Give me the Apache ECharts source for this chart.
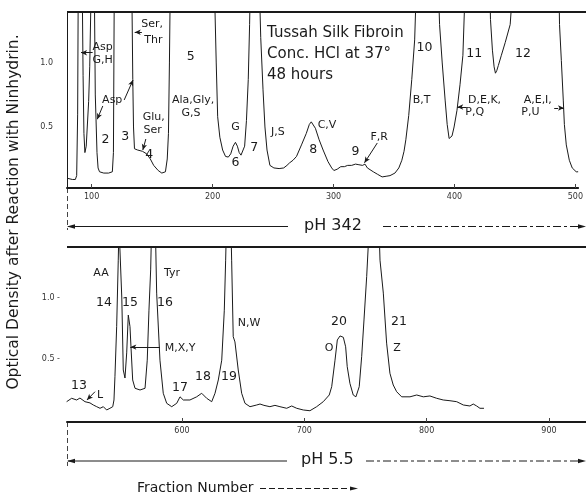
<!DOCTYPE html>
<html>
<head>
<meta charset="utf-8">
<script src="https://cdn.jsdelivr.net/npm/echarts@6/dist/echarts.min.js"></script>
<style>
html,body{margin:0;padding:0;background:#fff;}
#chart{width:586px;height:497px;}
</style>
</head>
<body>
<div id="chart"></div>
<script>
// ---------- DATA ----------
// Upper run (pH 3.42): fraction number / optical density (off-scale peaks exceed the axis top)
const topFraction = [79.6,84,86.5,87.6,88.4,88.9,92.2,92.9,93.6,94.4,95.5,97.5,98.4,99.6,102.2,103,103.6,104.4,105.3,106.5,110,114,117.1,118,118.7,133.2,134,134.6,135.4,138,142,145.5,148.5,151.3,155,158,161,162.5,163.5,164.3,165,201.5,203,204.2,206,208.3,210.7,213,215,217,218.9,220.5,222,223.5,225,226.5,228,229.5,230.6,231.2,238.7,239.8,241.7,243.3,245,247.4,250.7,255,258.8,261.5,263.7,266.5,269.4,273.5,277.5,280,281.6,283,285,288.1,291.4,295.4,298.5,300.3,303,306,309,311.7,315,318.2,321,324,326,328,332.9,336.5,340.2,343.5,346.7,350.8,354,356.5,358.3,359.8,362.2,364.7,367.1,368.5,386.7,387.7,389.9,392.3,394,395.6,396.8,398,399.7,402.1,404.6,407,408.9,429.2,429.8,431.4,432.8,433.9,435,436.3,438.8,442,446.1,448.3,486.4,486.9,488.4,490,490.9,492.5,495,497.4,500.7,502.3];
const topDensity = [0.10,0.09,0.09,0.12,0.6,1.6,1.6,0.9,0.45,0.30,0.35,0.7,0.97,1.6,1.6,0.75,0.56,0.3,0.18,0.15,0.14,0.14,0.15,0.3,1.6,1.6,0.87,0.5,0.33,0.32,0.31,0.29,0.25,0.2,0.16,0.14,0.15,0.25,0.45,1.0,1.6,1.6,1.0,0.58,0.42,0.32,0.27,0.265,0.29,0.35,0.38,0.35,0.3,0.28,0.29,0.35,0.55,0.87,1.3,1.6,1.6,1.2,0.79,0.5,0.32,0.2,0.18,0.175,0.18,0.2,0.22,0.24,0.27,0.36,0.45,0.52,0.54,0.53,0.49,0.40,0.32,0.23,0.18,0.16,0.17,0.19,0.19,0.2,0.2,0.21,0.205,0.2,0.21,0.18,0.15,0.13,0.11,0.115,0.12,0.14,0.18,0.24,0.31,0.4,0.59,0.87,1.18,1.6,1.6,1.3,1.0,0.71,0.52,0.41,0.40,0.43,0.5,0.63,0.83,1.06,1.6,1.6,1.34,1.1,0.97,0.92,0.94,0.98,1.06,1.16,1.3,1.6,1.6,1.3,1.02,0.71,0.52,0.36,0.24,0.18,0.15,0.15];

// Lower run (pH 5.5)
const bottomFraction = [505.7,509.8,513.9,516.6,520.7,522.1,524.8,527.5,530.3,533,535.7,538.4,541.1,543.4,544.4,545.2,546.6,547.9,548.5,550.1,550.8,552,553.4,554.8,556.1,557.5,558.3,559.7,561.6,565.7,569.8,571.6,573,574.4,575.2,578.2,579.3,582,584.7,587.5,591.6,595.7,598.4,601.1,606.5,612,616.1,620.2,624.3,627,629.7,632.5,634.6,635.7,636.4,640,640.6,641.9,643.3,646,648.8,651.5,655.6,661.1,663.8,667,671.9,676,680.1,681.5,685.6,689.7,693.8,699.2,704.6,710.1,715.5,720.4,722.4,725.1,727,729.2,731.9,733.8,735.1,737.3,740,742.2,744.9,746.9,748.8,751,752.3,752.9,761,761.9,764.6,767.3,770,772.7,775.5,779.6,786.4,791.9,797.3,802.7,808.2,813.6,819.1,824.6,830,835.4,838.1,840.9,843.6,846.9];
const bottomDensity = [0.15,0.178,0.164,0.18,0.15,0.164,0.14,0.123,0.109,0.096,0.109,0.082,0.096,0.109,0.164,0.355,0.765,1.31,1.6,1.6,1.0,0.41,0.344,0.55,0.86,0.765,0.6,0.328,0.26,0.246,0.26,0.49,0.9,1.23,1.6,1.6,1.04,0.49,0.219,0.137,0.109,0.137,0.19,0.164,0.164,0.19,0.219,0.178,0.15,0.219,0.328,0.49,0.9,1.31,1.6,1.6,1.31,0.683,0.64,0.41,0.219,0.137,0.109,0.123,0.131,0.12,0.109,0.12,0.109,0.123,0.096,0.115,0.096,0.082,0.076,0.109,0.15,0.205,0.273,0.49,0.656,0.689,0.678,0.6,0.437,0.3,0.205,0.19,0.273,0.519,0.82,1.175,1.43,1.6,1.6,1.31,1.04,0.63,0.383,0.287,0.232,0.19,0.19,0.205,0.19,0.197,0.178,0.164,0.158,0.15,0.123,0.115,0.131,0.115,0.096,0.096];

// Tick labels
const topTicks = [100,200,300,400,500];
const bottomTicks = [600,700,800,900];
const densityTicks = [0.5,1.0];

// Peak annotations: [fraction, density, text]
const topNotes = [
  [109,1.125,'Asp'],[109,1.02,'G,H'],
  [150,1.305,'Ser,'],[151,1.18,'Thr'],
  [182,1.047,'5'],
  [117,0.71,'Asp'],
  [111.4,0.40,'2'],[127.7,0.42,'3'],
  [151.3,0.578,'Glu,'],[150.5,0.477,'Ser'],[147.6,0.28,'4'],
  [183.9,0.711,'Ala,Gly,'],[182.2,0.61,'G,S'],
  [218.9,0.5,'G'],[218.9,0.22,'6'],[234.4,0.336,'7'],
  [253.9,0.46,'J,S'],[294.6,0.516,'C,V'],[283.2,0.32,'8'],
  [318.2,0.305,'9'],[337.8,0.42,'F,R'],
  [375.2,1.117,'10'],[372.8,0.71,'B,T'],
  [416.4,1.075,'11'],[456.7,1.075,'12'],
  [424.9,0.711,'D,E,K,'],[416.8,0.617,'P,Q'],
  [468.9,0.711,'A,E,I,'],[462.8,0.617,'P,U']
];
const bottomNotes = [
  [533.8,1.205,'AA'],[591.8,1.205,'Tyr'],
  [536.2,0.96,'14'],[557.5,0.96,'15'],[586.1,0.96,'16'],
  [598.4,0.59,'M,X,Y'],
  [515.8,0.279,'13'],[533,0.205,'L'],
  [598.4,0.262,'17'],[617.2,0.352,'18'],[638.4,0.352,'19'],
  [654.8,0.795,'N,W'],
  [728.3,0.803,'20'],[720.2,0.59,'O'],
  [777.4,0.803,'21'],[775.8,0.59,'Z']
];
// Leader arrows: [x1, y1, x2, y2] (arrow head at the second point)
const topArrows = [
  [100.8,1.08,91.2,1.08],
  [141.5,1.24,135.6,1.24],
  [109.2,0.664,104.6,0.56],
  [126.9,0.711,134.2,0.867],
  [144.8,0.406,142.3,0.32],
  [336.2,0.375,325.6,0.22],
  [410,0.656,402.3,0.656]
];
const topDashedArrows = [[482.5,0.648,490.6,0.648]];
const bottomArrows = [
  [582,0.598,557.8,0.598],
  [528.9,0.232,522.3,0.164]
];

// ---------- CHART ----------
const FONT = "'DejaVu Sans', 'Liberation Sans', Arial, sans-serif";
const INK = '#1a1a1a';
const chart = echarts.init(document.getElementById('chart'), null, {renderer:'canvas'});

function toPairs(xs, ys){ return xs.map((x,i)=>[x, ys[i]]); }
function noteData(notes){
  return notes.map(n => ({
    value:[n[0], n[1]],
    label:{formatter:n[2], fontSize: /^\d+$/.test(n[2]) ? 12.5 : 11}
  }));
}
function arrowData(arrs, dashed){
  return arrs.map(a => [
    {coord:[a[0],a[1]], symbol:'none', lineStyle:{type: dashed ? 'dashed' : 'solid'}},
    {coord:[a[2],a[3]], symbol:'arrow', symbolSize:[4,6]}
  ]);
}

const G1 = {left:67, top:12, width:519, height:176};
const G2 = {left:67, top:247, width:519, height:175};

const noteLabel = {show:true, position:'inside', color:INK, opacity:1, fontFamily:FONT};

const option = {
  animation:false,
  backgroundColor:'#fff',
  textStyle:{fontFamily:FONT},
  grid:[
    Object.assign({}, G1),
    Object.assign({}, G2)
  ],
  xAxis:[
    {gridIndex:0, type:'value', min:79.6, max:502.3,
     axisLine:{show:true, onZero:false, lineStyle:{color:INK, width:2}},
     axisTick:{show:true, inside:true, length:4, customValues:topTicks, lineStyle:{color:'#444'}},
     axisLabel:{customValues:topTicks, fontSize:8, color:'#333', margin:5, fontFamily:FONT},
     splitLine:{show:false}},
    {gridIndex:1, type:'value', min:506, max:930.3,
     axisLine:{show:true, onZero:false, lineStyle:{color:INK, width:2}},
     axisTick:{show:true, inside:true, length:4, customValues:bottomTicks, lineStyle:{color:'#444'}},
     axisLabel:{customValues:bottomTicks, fontSize:8, color:'#333', margin:5, fontFamily:FONT},
     splitLine:{show:false}}
  ],
  yAxis:[
    {gridIndex:0, type:'value', min:0.0234, max:1.398,
     axisLine:{show:true, onZero:false, lineStyle:{color:INK, width:1}},
     axisTick:{show:false},
     axisLabel:{customValues:densityTicks, formatter:v=>v.toFixed(1), fontSize:8, color:'#333', margin:14, fontFamily:FONT},
     splitLine:{show:false}},
    {gridIndex:1, type:'value', min:-0.0164, max:1.418,
     axisLine:{show:false, onZero:false},
     axisTick:{show:false},
     axisLabel:{customValues:densityTicks, formatter:v=>v.toFixed(1)+' -', fontSize:8, color:'#333', margin:7, fontFamily:FONT},
     splitLine:{show:false}}
  ],
  series:[
    {type:'line', xAxisIndex:0, yAxisIndex:0, data:toPairs(topFraction, topDensity),
     showSymbol:false, clip:true, lineStyle:{color:INK, width:1}},
    {type:'line', xAxisIndex:1, yAxisIndex:1, data:toPairs(bottomFraction, bottomDensity),
     showSymbol:false, clip:true, lineStyle:{color:INK, width:1}},
    {type:'scatter', xAxisIndex:0, yAxisIndex:0, symbolSize:0, silent:true,
     itemStyle:{opacity:1, color:INK},
     data:noteData(topNotes),
     label:noteLabel,
     markLine:{silent:true, animation:false, label:{show:false},
       lineStyle:{color:INK, width:1, type:'solid'},
       data:arrowData(topArrows,false).concat(arrowData(topDashedArrows,true))}},
    {type:'scatter', xAxisIndex:1, yAxisIndex:1, symbolSize:0, silent:true,
     itemStyle:{opacity:1, color:INK},
     data:noteData(bottomNotes),
     label:noteLabel,
     markLine:{silent:true, animation:false, label:{show:false},
       lineStyle:{color:INK, width:1, type:'solid'},
       data:arrowData(bottomArrows,false)}}
  ],
  graphic:[
    // frame top lines
    {type:'line', shape:{x1:G1.left, y1:G1.top, x2:586, y2:G1.top}, style:{stroke:INK, lineWidth:2}},
    {type:'line', shape:{x1:G2.left, y1:G2.top, x2:586, y2:G2.top}, style:{stroke:INK, lineWidth:2}},
    // dashed left extensions
    {type:'line', shape:{x1:67.5, y1:G1.top+G1.height, x2:67.5, y2:230}, style:{stroke:'#444', lineWidth:1, lineDash:[5,3]}},
    {type:'line', shape:{x1:67.5, y1:G2.top+G2.height, x2:67.5, y2:466}, style:{stroke:'#444', lineWidth:1, lineDash:[5,3]}},
    // pH 342 arrows
    {type:'line', shape:{x1:68, y1:226.5, x2:288, y2:226.5}, style:{stroke:INK, lineWidth:1}},
    {type:'polygon', shape:{points:[[67,226.5],[75,224.3],[75,228.7]]}, style:{fill:INK}},
    {type:'text', x:304, y:226, style:{text:'pH 342', font:'16px '+FONT, fill:INK, verticalAlign:'middle'}},
    {type:'line', shape:{x1:383, y1:226.5, x2:580, y2:226.5}, style:{stroke:INK, lineWidth:1, lineDash:[8,3,3,3]}},
    {type:'polygon', shape:{points:[[586,226.5],[578,224.3],[578,228.7]]}, style:{fill:INK}},
    // pH 5.5 arrows
    {type:'line', shape:{x1:68, y1:461, x2:287, y2:461}, style:{stroke:INK, lineWidth:1}},
    {type:'polygon', shape:{points:[[67,461],[75,458.8],[75,463.2]]}, style:{fill:INK}},
    {type:'text', x:301, y:460, style:{text:'pH 5.5', font:'16px '+FONT, fill:INK, verticalAlign:'middle'}},
    {type:'line', shape:{x1:366, y1:461, x2:580, y2:461}, style:{stroke:INK, lineWidth:1, lineDash:[8,3,3,3]}},
    {type:'polygon', shape:{points:[[586,461],[578,458.8],[578,463.2]]}, style:{fill:INK}},
    // x title
    {type:'text', x:137, y:488, style:{text:'Fraction Number', font:'14px '+FONT, fill:INK, verticalAlign:'middle'}},
    {type:'line', shape:{x1:260, y1:488.5, x2:352, y2:488.5}, style:{stroke:INK, lineWidth:1, lineDash:[6,3]}},
    {type:'polygon', shape:{points:[[358,488.5],[350,486.5],[350,490.5]]}, style:{fill:INK}},
    // y title
    {type:'text', x:14, y:212, rotation:Math.PI/2,
     style:{text:'Optical Density after Reaction with Ninhydrin.', font:'15.5px '+FONT, fill:INK, align:'center', verticalAlign:'middle'}},
    // panel caption
    {type:'text', x:267, y:33, style:{text:'Tussah Silk Fibroin', font:'15px '+FONT, fill:INK, verticalAlign:'middle'}},
    {type:'text', x:267, y:54, style:{text:'Conc. HCl at 37°', font:'15px '+FONT, fill:INK, verticalAlign:'middle'}},
    {type:'text', x:267, y:75, style:{text:'48 hours', font:'15px '+FONT, fill:INK, verticalAlign:'middle'}}
  ]
};
chart.setOption(option);
</script>
</body>
</html>
